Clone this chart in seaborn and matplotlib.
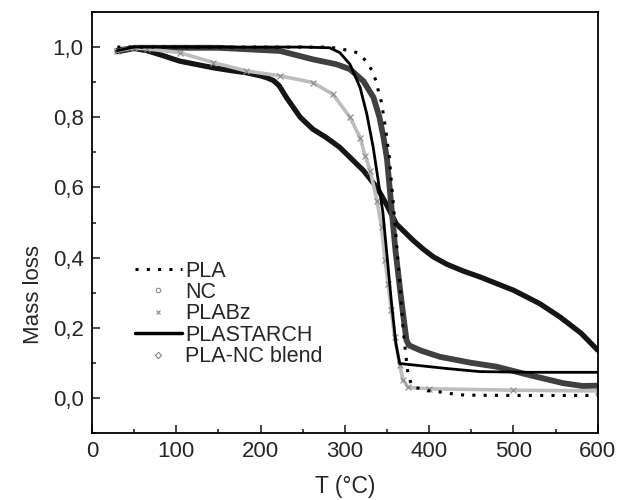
import numpy as np
import pandas as pd
import matplotlib
matplotlib.use("Agg")
import matplotlib.pyplot as plt
from matplotlib.lines import Line2D
from matplotlib.ticker import MultipleLocator, FuncFormatter
import seaborn as sns

# ---- data ----
pla_T = [30, 100, 200, 280, 290, 303, 315, 324.5, 332, 337, 340, 343.5, 345.5, 347.5, 349.4, 351, 352.7,
         355, 360, 365, 369, 372, 375, 380, 400, 417, 429, 442, 500, 600]
pla_y = [1.0, 1.0, 1.0, 1.0, 0.997, 0.991, 0.984, 0.962, 0.934, 0.903, 0.872, 0.842, 0.81, 0.78, 0.747, 0.717, 0.686,
         0.62, 0.48, 0.33, 0.2, 0.129, 0.065, 0.032, 0.02, 0.016, 0.011, 0.008, 0.007, 0.007]

nc_T = [30, 50, 65, 85, 104, 125, 144, 165, 183, 200, 207, 215, 222, 231, 247, 262, 278, 294, 322, 338, 349,
        361, 381, 393, 405, 421, 440, 460, 500, 531, 555, 580, 600]
nc_y = [0.987, 0.996, 0.99, 0.975, 0.96, 0.95, 0.941, 0.933, 0.927, 0.918, 0.913, 0.905, 0.89, 0.855, 0.80, 0.766,
        0.742, 0.714, 0.648, 0.60, 0.553, 0.496, 0.449, 0.424, 0.402, 0.381, 0.362, 0.345, 0.307, 0.269, 0.231,
        0.185, 0.136]

plabz_T = [30, 50, 65, 104, 144, 183, 223, 262, 286, 306, 318, 324, 330, 338, 343.5, 347.5, 351.4, 355, 359,
           365, 369, 375, 400, 500, 600]
plabz_y = [0.99, 0.998, 0.995, 0.984, 0.956, 0.932, 0.918, 0.899, 0.865, 0.80, 0.742, 0.69, 0.648, 0.5625, 0.487,
           0.392, 0.326, 0.25, 0.174, 0.094, 0.051, 0.03, 0.026, 0.022, 0.02]

starch_T = [30, 50, 150, 250, 282, 294, 306, 318, 326, 333.6, 339.5, 345, 349.4, 355, 360.5, 365, 381, 420,
            460, 520, 600]
starch_y = [0.99, 1.0, 1.0, 1.0, 0.998, 0.984, 0.951, 0.885, 0.809, 0.714, 0.62, 0.53, 0.42, 0.278, 0.155,
            0.098, 0.094, 0.084, 0.075, 0.073, 0.073]

blend_T = [30, 50, 150, 223, 262, 290, 306, 322, 334, 341, 346, 350, 355, 360, 367, 373, 376, 390, 413, 450,
           480, 519, 559, 582, 600]
blend_y = [0.99, 0.998, 0.998, 0.989, 0.965, 0.951, 0.937, 0.903, 0.856, 0.80, 0.74, 0.68, 0.55, 0.42, 0.278,
           0.165, 0.15, 0.135, 0.117, 0.10, 0.089, 0.065, 0.042, 0.034, 0.035]

labels = ["PLA", "NC", "PLABz", "PLASTARCH", "PLA-NC blend"]
x_ticks = [0, 100, 200, 300, 400, 500, 600]
y_ticks = [0.0, 0.2, 0.4, 0.6, 0.8, 1.0]

# ---- style ----
sns.set_style("ticks")
plt.rcParams['font.family'] = ['Liberation Sans', 'DejaVu Sans']

fig = plt.figure(figsize=(6.22, 5.0), dpi=100)
ax = fig.add_axes([0.148, 0.134, 0.813, 0.842])

def df(T, y):
    return pd.DataFrame({"T": T, "y": y})

# NC: dense dark markers -> thick dark curve
sns.lineplot(data=df(nc_T, nc_y), x="T", y="y", ax=ax, color="#151515", lw=3.8, sort=False, legend=False)
# PLA-NC blend: dense grey markers -> thick dark-grey curve
sns.lineplot(data=df(blend_T, blend_y), x="T", y="y", ax=ax, color="#404040", lw=4.2, sort=False, legend=False)
# PLABz: grey x markers
sns.lineplot(data=df(plabz_T, plabz_y), x="T", y="y", ax=ax, color="#bdbdbd", lw=2.6, sort=False, legend=False,
             marker="x", markersize=4, markeredgecolor="#8a8a8a", markeredgewidth=0.8)
# PLASTARCH: solid black line
sns.lineplot(data=df(starch_T, starch_y), x="T", y="y", ax=ax, color="black", lw=2.0, sort=False, legend=False)
# PLA: dotted
sns.lineplot(data=df(pla_T, pla_y), x="T", y="y", ax=ax, color="black", lw=2.2, sort=False, legend=False,
             linestyle=(0, (1, 2.7)))

ax.set_xlim(0, 600)
ax.set_ylim(-0.1, 1.1)
ax.set_xticks(x_ticks)
ax.set_yticks(y_ticks)
ax.xaxis.set_minor_locator(MultipleLocator(50))
ax.yaxis.set_minor_locator(MultipleLocator(0.1))
ax.yaxis.set_major_formatter(FuncFormatter(lambda v, p: f"{v:.1f}".replace('.', ',')))
ax.tick_params(which='major', direction='in', length=6, width=1.2, labelsize=16, pad=6,
               top=False, right=False)
ax.tick_params(which='minor', direction='in', length=3, width=1.2, top=False, right=False)
for s in ax.spines.values():
    s.set_linewidth(1.3)
    s.set_color('black')
    s.set_visible(True)

ax.set_xlabel("T (°C)", fontsize=16.5, labelpad=9)
ax.set_ylabel("Mass loss", fontsize=16, labelpad=8)
ax.yaxis.set_label_coords(-0.095, 0.33)

handles = [
    Line2D([], [], color="black", lw=2.2, linestyle=(0, (1, 2.7))),
    Line2D([], [], color="none", marker="o", markersize=3.2, markerfacecolor="white",
           markeredgecolor="#888888", markeredgewidth=0.8),
    Line2D([], [], color="none", marker="x", markersize=3.2, markeredgecolor="#888888", markeredgewidth=0.8),
    Line2D([], [], color="black", lw=2.5),
    Line2D([], [], color="none", marker="D", markersize=3.2, markerfacecolor="white",
           markeredgecolor="#888888", markeredgewidth=0.8),
]
leg = ax.legend(handles, labels, loc="upper left", bbox_to_anchor=(0.067, 0.43), frameon=False,
                fontsize=15.5, handlelength=2.2, handletextpad=0.15, labelspacing=0.02, borderaxespad=0)

fig.savefig("out.png", dpi=100)
